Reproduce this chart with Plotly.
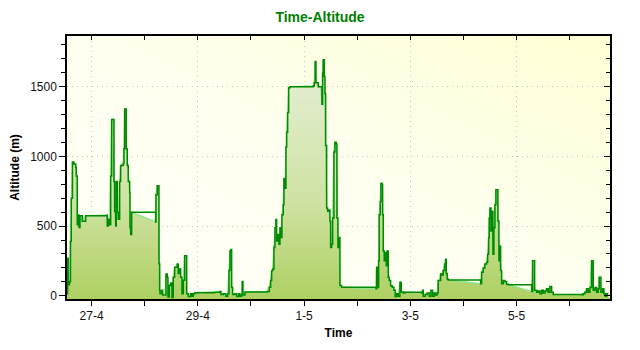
import base64
import pandas as pd
import plotly.graph_objects as go

# GPS log: hours elapsed since 27 April 00:00 and altitude in metres
hours = [
    -11.02, -10.84, -10.57, -9.98, -9.53, -9.17, -8.63, -7.95, -7.14, -6.91,
    -6.46, -6.14, -5.69, -5.24, -4.20, -2.67, 6.82, 7.09, 7.54, 8.18,
    8.63, 9.08, 9.80, 10.12, 10.43, 10.89, 11.16, 11.61, 12.06, 12.69,
    13.14, 14.32, 14.64, 14.95, 15.40, 15.67, 16.13, 16.58, 17.21, 17.35,
    17.66, 18.11, 28.95, 29.09, 29.68, 30.13, 30.44, 30.76,
    30.90, 31.66, 32.12, 33.15, 33.61, 34.19, 34.51, 35.10, 35.73, 36.32,
    36.90, 37.54, 38.12, 38.71, 39.16, 39.61, 40.25, 40.83, 41.42, 42.05,
    42.64, 42.96, 43.68, 44.76, 45.22, 45.94, 46.71, 55.74, 58.00, 58.45,
    59.49, 60.57, 61.48, 62.06, 62.52, 62.97, 63.28, 63.73, 64.77, 65.54,
    66.45, 67.03, 67.80, 68.07, 68.39, 69.29, 79.36,
    80.27, 80.90, 81.35, 81.80, 82.39, 82.84, 83.29, 83.61, 84.06, 84.65,
    85.10, 85.55, 86.00, 86.59, 86.91, 87.36, 87.81, 88.13, 88.58, 89.03,
    89.62, 100.14, 100.59, 101.04, 101.36, 102.40, 103.62, 104.07, 104.39, 104.66,
    105.11, 105.43, 105.74, 106.19, 106.65, 107.23, 107.68, 108.00, 108.45, 108.90,
    109.49, 109.94, 110.53, 110.85, 111.30, 111.75, 112.20, 112.97,
    128.46, 128.78, 129.23, 129.68, 129.95, 130.41, 130.72, 131.17, 131.49, 131.76,
    132.21, 132.66, 133.12, 133.57, 134.02, 134.47, 135.10, 135.83, 136.59, 137.18,
    137.81, 138.54, 139.30, 139.89, 140.80, 141.56, 149.11, 149.56, 149.83, 150.73,
    151.64, 152.54, 153.31, 154.07, 154.80, 155.43, 156.15, 156.60, 157.06, 157.69,
    158.28, 158.86, 159.50, 159.95, 160.22, 160.67, 161.12, 175.76, 176.21, 176.93,
    177.70, 178.47, 178.92, 179.37, 179.64, 179.96, 180.41, 180.86, 181.31, 181.76,
    182.22, 182.67, 183.25, 183.57, 184.02, 184.34, 184.79, 185.24, 185.96, 186.73,
    187.50, 188.22, 198.80, 199.25, 199.83, 200.15,
    201.05, 201.77, 202.54, 203.31, 204.03, 204.80, 205.57, 206.29, 207.06, 207.83,
    208.55, 221.38, 222.10, 222.87, 223.64, 224.36, 225.13, 225.90, 226.35, 226.62,
    227.39, 228.15, 228.88, 229.33, 229.78, 230.10, 230.86, 231.45, 232.04, 232.67,
    233.13,
]

altitude_m = [
    15, 270, 80, 100, 390, 700, 960, 945, 920, 860,
    510, 580, 490, 575, 535, 575, 578, 500, 550, 510,
    860, 1265, 1265, 820, 605, 500, 820, 600, 550, 820,
    935, 950, 1055, 1340, 1340, 1055, 935, 820, 740, 490,
    440, 599, 530, 725, 790, 790, 230, 40,
    15, 40, 5, 5, 157, 133, -8, 74, 91, -12,
    133, 204, 204, 228, 160, 192, 133, 15, 112, 287,
    287, 15, -5, 15, -3, 15, 22, 25, 30, 10,
    15, -3, 15, 181, 322, 333, 60, 10, 15, -5,
    15, -3, 8, 103, 5, 27, 30,
    62, 110, 180, 190, 346, 488, 547, 393, 440, 370,
    488, 418, 582, 653, 842, 771, 1067, 1174, 1315, 1493,
    1500, 1505, 1528, 1681, 1528, 1500, 1500, 1374, 1599, 1693,
    1575, 1450, 1078, 630, 606, 615, 536, 346, 370, 559,
    1032, 1102, 1090, 559, 346, 418, 74, 62,
    50, 204, 60, 252, 582, 677, 807, 800, 582, 322,
    252, 310, 216, 322, 133, 110, 72, 62, 39, -5,
    15, -3, 98, 27, 20, 25, 20, 39, -3, 10,
    20, -4, 39, -3, 20, 5, 20, 110, 110, 157,
    150, 181, 228, 263, 160, 121, 114, 86, 169, 200,
    228, 240, 298, 417, 559, 630, 465, 606, 298, 488,
    653, 760, 760, 536, 252, 358, 181, 86, 110, 100,
    82, 80, 30, 252, 252, 39,
    25, 35, 15, 40, 20, 35, 50, 25, 67, 25,
    10, 8, 15, 25, 50, 25, 60, 252, 252, 40,
    60, 25, 50, 133, 133, 25, 50, 15, -3, 15,
    5,
]

day_zero = pd.Timestamp("2013-04-27")
times = day_zero + pd.to_timedelta(hours, unit="h")

x_range = [day_zero - pd.Timedelta(hours=11.1), day_zero + pd.Timedelta(hours=234.2)]
y_range = [-23, 1864]

DARK = "#008a00"
LIGHT = "#8ee68e"
FONT = "Liberation Sans"
DAY_MS = 86400000
GRID = dict(showgrid=True, gridcolor="#c4c4c4", griddash="1px,4px", gridwidth=1)

# soft yellow wash behind the plotting area
svg = (
    '<svg xmlns="http://www.w3.org/2000/svg" width="100" height="100" '
    'viewBox="0 0 100 100" preserveAspectRatio="none">'
    '<defs><linearGradient id="g" x1="0" y1="1" x2="1" y2="0">'
    '<stop offset="0" stop-color="#fffff6"/>'
    '<stop offset="0.5" stop-color="#fffff0"/>'
    '<stop offset="1" stop-color="#ffffd4"/>'
    '</linearGradient></defs>'
    '<rect width="100" height="100" fill="url(#g)"/></svg>'
)
bg_src = "data:image/svg+xml;base64," + base64.b64encode(svg.encode()).decode()

fig = go.Figure()

# baseline at the bottom of the axis so the area reaches the frame
fig.add_trace(go.Scatter(
    x=[x_range[0], x_range[1]], y=[y_range[0], y_range[0]],
    mode="lines", line=dict(width=0), showlegend=False, hoverinfo="skip",
))

# filled altitude area with light outline
fig.add_trace(go.Scatter(
    x=times, y=altitude_m, mode="lines",
    line=dict(color=LIGHT, width=1.5),
    fill="tonexty",
    fillgradient=dict(
        type="vertical", start=0, stop=1700,
        colorscale=[[0, "#aed062"], [0.4, "#cfe2a2"], [1, "#e6efd8"]],
    ),
    showlegend=False,
))

# stepped altitude trace on top
fig.add_trace(go.Scatter(
    x=times, y=altitude_m, mode="lines",
    line=dict(color=DARK, width=1.5, shape="hv"),
    showlegend=False,
))

# empty trace that carries the top/right tick frame
fig.add_trace(go.Scatter(x=[], y=[], xaxis="x2", yaxis="y2",
                         showlegend=False, hoverinfo="skip"))

tick_font = dict(family=FONT, size=12, color="#111111")

fig.update_layout(
    width=640, height=350,
    margin=dict(l=67, r=30, t=36, b=48),
    paper_bgcolor="white",
    plot_bgcolor="#fffff0",
    images=[dict(source=bg_src, xref="paper", yref="paper", x=0, y=1,
                 sizex=1, sizey=1, xanchor="left", yanchor="top",
                 sizing="stretch", layer="below")],
    title=dict(text="<b>Time-Altitude</b>", x=0.5, xref="container",
               y=0.95, yref="container", xanchor="center", yanchor="middle",
               font=dict(family=FONT, size=14, color="#008000")),
    xaxis=dict(
        type="date", range=x_range,
        tick0="2013-04-27", dtick=2 * DAY_MS, tickformat="%-d-%-m",
        ticks="outside", ticklen=5, tickcolor="black", tickwidth=1,
        minor=dict(dtick=DAY_MS, tick0="2013-04-27", ticks="outside",
                   ticklen=5, tickcolor="black", showgrid=False),
        showline=True, linecolor="black", linewidth=1.5, mirror=True,
        zeroline=False, tickfont=tick_font,
        title=dict(text="<b>Time</b>", standoff=6,
                   font=dict(family=FONT, size=12, color="black")),
        **GRID,
    ),
    yaxis=dict(
        range=y_range, dtick=500, tick0=0,
        ticks="outside", ticklen=6, tickcolor="black",
        minor=dict(dtick=100, tick0=0, ticks="outside", ticklen=4,
                   tickcolor="black", showgrid=False),
        showline=True, linecolor="black", linewidth=1.5, mirror=True,
        zeroline=False, tickfont=tick_font,
        title=dict(text="<b>Altitude (m)</b>", standoff=8,
                   font=dict(family=FONT, size=12, color="black")),
        **GRID,
    ),
    xaxis2=dict(
        type="date", overlaying="x", side="top", matches="x", anchor="y",
        tick0="2013-04-27", dtick=2 * DAY_MS,
        ticks="inside", ticklen=4, tickcolor="black",
        minor=dict(dtick=DAY_MS, tick0="2013-04-27", ticks="inside",
                   ticklen=4, tickcolor="black", showgrid=False),
        showticklabels=False, showgrid=False, zeroline=False, showline=False,
    ),
    yaxis2=dict(
        overlaying="y", side="right", matches="y", anchor="x",
        dtick=500, tick0=0, ticks="inside", ticklen=6, tickcolor="black",
        minor=dict(dtick=100, tick0=0, ticks="inside", ticklen=4,
                   tickcolor="black", showgrid=False),
        showticklabels=False, showgrid=False, zeroline=False, showline=False,
    ),
)

fig.write_html("out.html")
